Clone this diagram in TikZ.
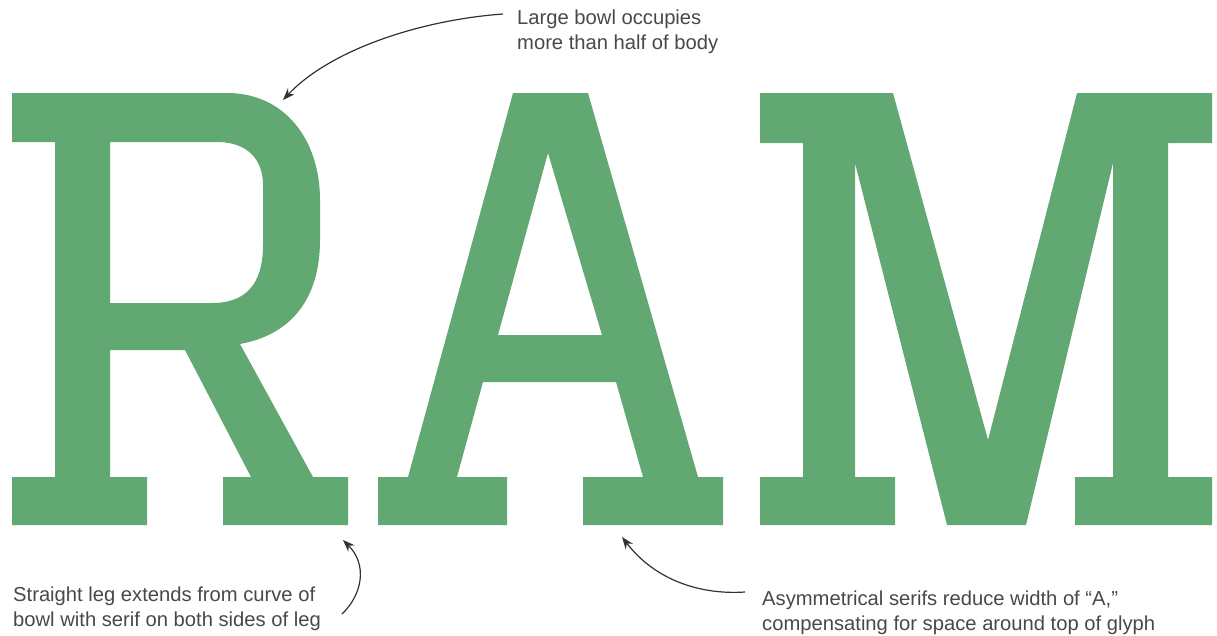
\documentclass[tikz,border=0pt]{standalone}
\usepackage{fontspec}
\setmainfont{Liberation Sans}
\usetikzlibrary{arrows.meta}
\definecolor{glyph}{RGB}{98,168,115}
\definecolor{note}{RGB}{72,72,72}
\definecolor{pointer}{RGB}{50,50,50}
\tikzset{
  letter/.style={fill=glyph, draw=none, even odd rule},
  notetext/.style={text=note, inner sep=0pt, anchor=base west, align=left,
    font=\fontsize{20.2}{25}\selectfont},
  pointerline/.style={draw=pointer, line width=1.2pt,
    -{Stealth[length=12pt,width=9pt]}}
}
\begin{document}
\begin{tikzpicture}[x=1pt,y=-1pt]
\useasboundingbox (0,0) rectangle (1217,635);
% R
\path[letter]
  (12,93) -- (227,93) .. controls (285,93) and (320,140) .. (320,200)
  -- (320,240) .. controls (320,300) and (290,335) .. (240,344)
  -- (313,477) -- (348,477) -- (348,525) -- (223,525) -- (223,477) -- (251,477)
  -- (185,350) -- (110,350) -- (110,477) -- (147,477) -- (147,525) -- (12,525)
  -- (12,477) -- (55,477) -- (55,142) -- (12,142) -- cycle
  (110,142) -- (217,142) .. controls (248,142) and (263,160) .. (263,185)
  -- (263,245) .. controls (263,285) and (245,303) .. (212,303) -- (110,303) -- cycle;
% A
\path[letter]
  (513,93) -- (588,93) -- (698,477) -- (723,477) -- (723,525) -- (583,525)
  -- (583,477) -- (643,477) -- (616,382) -- (483,382) -- (457,477) -- (507,477)
  -- (507,525) -- (378,525) -- (378,477) -- (408,477) -- cycle
  (548,153) -- (602,335) -- (498,335) -- cycle;
% M
\path[letter]
  (760,93) -- (893,93) -- (988,440) -- (1077,93) -- (1212,93) -- (1212,143)
  -- (1168,143) -- (1168,477) -- (1212,477) -- (1212,525) -- (1075,525)
  -- (1075,477) -- (1113,477) -- (1113,163) -- (1026,525) -- (947,525)
  -- (855,163) -- (855,477) -- (895,477) -- (895,525) -- (760,525) -- (760,477)
  -- (803,477) -- (803,143) -- (760,143) -- cycle;
% notes (anchor is the baseline of the last line)
\node[notetext] (bowlnote) at (517,49) {Large bowl occupies\\more than half of body};
\node[notetext] (legnote) at (13,626) {Straight leg extends from curve of\\bowl with serif on both sides of leg};
\node[notetext] (serifnote) at (762,630) {Asymmetrical serifs reduce width of “A,”\\compensating for space around top of glyph};
% pointer ends
\coordinate (bowltail) at (503,14);
\coordinate (bowltip) at (283,100);
\coordinate (legtail) at (342,614);
\coordinate (legtip) at (343,540);
\coordinate (seriftail) at (745,592);
\coordinate (seriftip) at (622,537);
\draw[pointerline] (bowltail) .. controls (420,20) and (330,50) .. (bowltip);
\draw[pointerline] (legtail) .. controls (362,595) and (368,565) .. (legtip);
\draw[pointerline] (seriftail) .. controls (700,595) and (655,580) .. (seriftip);
\end{tikzpicture}
\end{document}
